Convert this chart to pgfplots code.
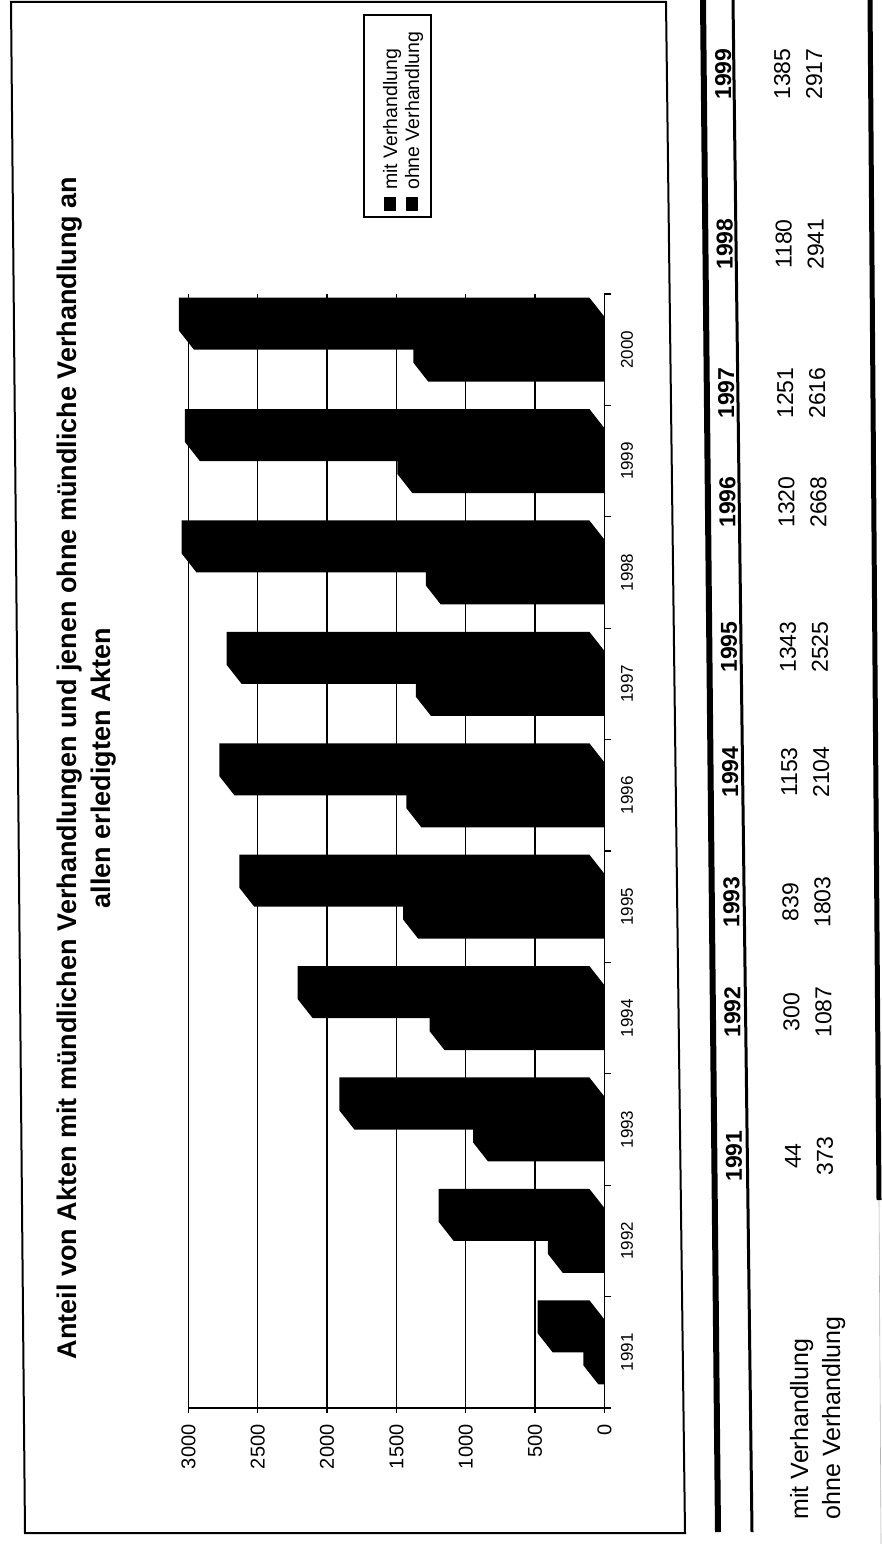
\documentclass[border=0pt]{standalone}
\usepackage{fontspec}
\setmainfont{Liberation Sans}
\usepackage{pgfplots}
\usepackage{pgfplotstable}
\pgfplotsset{compat=1.18}

\pgfplotstableread{
idx year mit ohne
0 1991 44 373
1 1992 300 1087
2 1993 839 1803
3 1994 1153 2104
4 1995 1343 2525
5 1996 1320 2668
6 1997 1251 2616
7 1998 1180 2941
8 1999 1385 2917
9 2000 1270 2960
}\datatable

\begin{document}
\begin{tikzpicture}
\useasboundingbox (0pt,0pt) rectangle (881pt,-1544pt);
\begin{axis}[
  at={(396.4pt,-851pt)}, anchor=center,
  scale only axis, width=416pt, height=1114pt,
  xmin=0, xmax=3000, x dir=reverse,
  ymin=-0.5, ymax=9.5,
  clip=false,
  axis x line*=bottom, axis y line*=right,
  axis line style={black, line width=1.4pt},
  xtick={0,500,...,3000},
  xmajorgrids, grid style={black, line width=1.2pt},
  tick align=outside,
  major tick length=5pt, minor tick length=7pt,
  ytick={0,...,9},
  yticklabels={1991,1992,1993,1994,1995,1996,1997,1998,1999,2000},
  minor ytick={-0.5,0.5,...,9.5},
  major x tick style={black, line width=1.2pt},
  major y tick style={draw=none},
  minor y tick style={black, line width=1.2pt},
  /pgf/number format/1000 sep={},
  /pgf/number format/assume math mode=true,
  xticklabel shift=8pt,
  yticklabel shift=8pt,
  xticklabel style={rotate=90, anchor=east, font=\fontsize{20}{20}\selectfont},
  yticklabel style={rotate=90, anchor=north, font=\fontsize{17}{17}\selectfont},
]
\pgfplotsinvokeforeach{0,...,9}{
  \pgfplotstablegetelem{#1}{mit}\of\datatable
  \pgfmathsetmacro{\vm}{\pgfplotsretval}
  \pgfplotstablegetelem{#1}{ohne}\of\datatable
  \pgfmathsetmacro{\vo}{\pgfplotsretval}
  \pgfmathsetmacro{\vmb}{\vm+108}
  \pgfmathsetmacro{\vob}{\vo+108}
  \pgfmathsetmacro{\yA}{#1}
  \pgfmathsetmacro{\yB}{#1+0.296}
  \pgfmathsetmacro{\yAE}{#1+0.171}
  \pgfmathsetmacro{\yBE}{#1+0.467}
  \pgfmathsetmacro{\yM}{#1-0.287}
  \pgfmathsetmacro{\yME}{#1-0.116}
  \edef\temp{\noexpand\addplot[fill=black, draw=none, forget plot] coordinates {(0,\yA) (\vo,\yA) (\vob,\yAE) (\vob,\yBE) (108,\yBE) (0,\yB)} -- cycle;}
  \temp
  \edef\temp{\noexpand\addplot[fill=black, draw=none, forget plot] coordinates {(0,\yM) (\vm,\yM) (\vmb,\yME) (\vmb,\yAE) (108,\yAE) (0,\yA)} -- cycle;}
  \temp
}
\end{axis}

\begin{scope}[x=1pt,y=-1pt]
  % chart frame
  \draw[line width=2pt] (11,2) -- (666,2) -- (685,1533) -- (25,1533) -- cycle;
  % title
  \node[rotate=90, align=center, font=\bfseries\fontsize{27}{34}\selectfont] at (87,768)
    {Anteil von Akten mit mündlichen Verhandlungen und jenen ohne mündliche Verhandlung an\\allen erledigten Akten};
  % legend
  \draw[line width=1.2pt, fill=white] (364,15) rectangle (431,217);
  \fill[black] (384,197) rectangle (396,211);
  \fill[black] (406,197) rectangle (418,211);
  \node[rotate=90, anchor=base west, inner sep=0pt, font=\fontsize{19.5}{22}\selectfont] at (397,190) {mit Verhandlung};
  \node[rotate=90, anchor=base west, inner sep=0pt, font=\fontsize{19.5}{22}\selectfont] at (419,190) {ohne Verhandlung};
  % table lines
  \draw[line width=6pt] (703,0) -- (718,1532);
  \draw[line width=3pt] (733,0) -- (752,1532);
  \draw[line width=5pt] (870,0) -- (879,1200);
  \draw[line width=0.6pt, gray!60] (879,1200) -- (881,1544);
  % table headers
  \begin{scope}[every node/.style={rotate=90, anchor=base, font=\bfseries\fontsize{23}{23}\selectfont}]
    \node at (741.9,1156) {1991};
    \node at (740.4,1012) {1992};
    \node at (739.3,902) {1993};
    \node at (738.0,772) {1994};
    \node at (736.8,647) {1995};
    \node at (735.3,502) {1996};
    \node at (734.2,393) {1997};
    \node at (732.7,244) {1998};
    \node at (731.0,74) {1999};
  \end{scope}
  \begin{scope}[every node/.style={rotate=90, anchor=base, font=\fontsize{23}{23}\selectfont}]
    \node at (800.9,1156) {44};
    \node at (799.4,1012) {300};
    \node at (798.3,902) {839};
    \node at (797.0,772) {1153};
    \node at (795.8,647) {1343};
    \node at (794.3,502) {1320};
    \node at (793.2,393) {1251};
    \node at (791.7,244) {1180};
    \node at (790.0,74) {1385};
    \node at (832.9,1156) {373};
    \node at (831.4,1012) {1087};
    \node at (830.3,902) {1803};
    \node at (829.0,772) {2104};
    \node at (827.8,647) {2525};
    \node at (826.3,502) {2668};
    \node at (825.2,393) {2616};
    \node at (823.7,244) {2941};
    \node at (822.0,74) {2917};
  \end{scope}
  \node[rotate=90, anchor=base west, font=\fontsize{25}{25}\selectfont] at (808,1523) {mit Verhandlung};
  \node[rotate=90, anchor=base west, font=\fontsize{25}{25}\selectfont] at (840,1523) {ohne Verhandlung};
\end{scope}
\end{tikzpicture}
\end{document}
